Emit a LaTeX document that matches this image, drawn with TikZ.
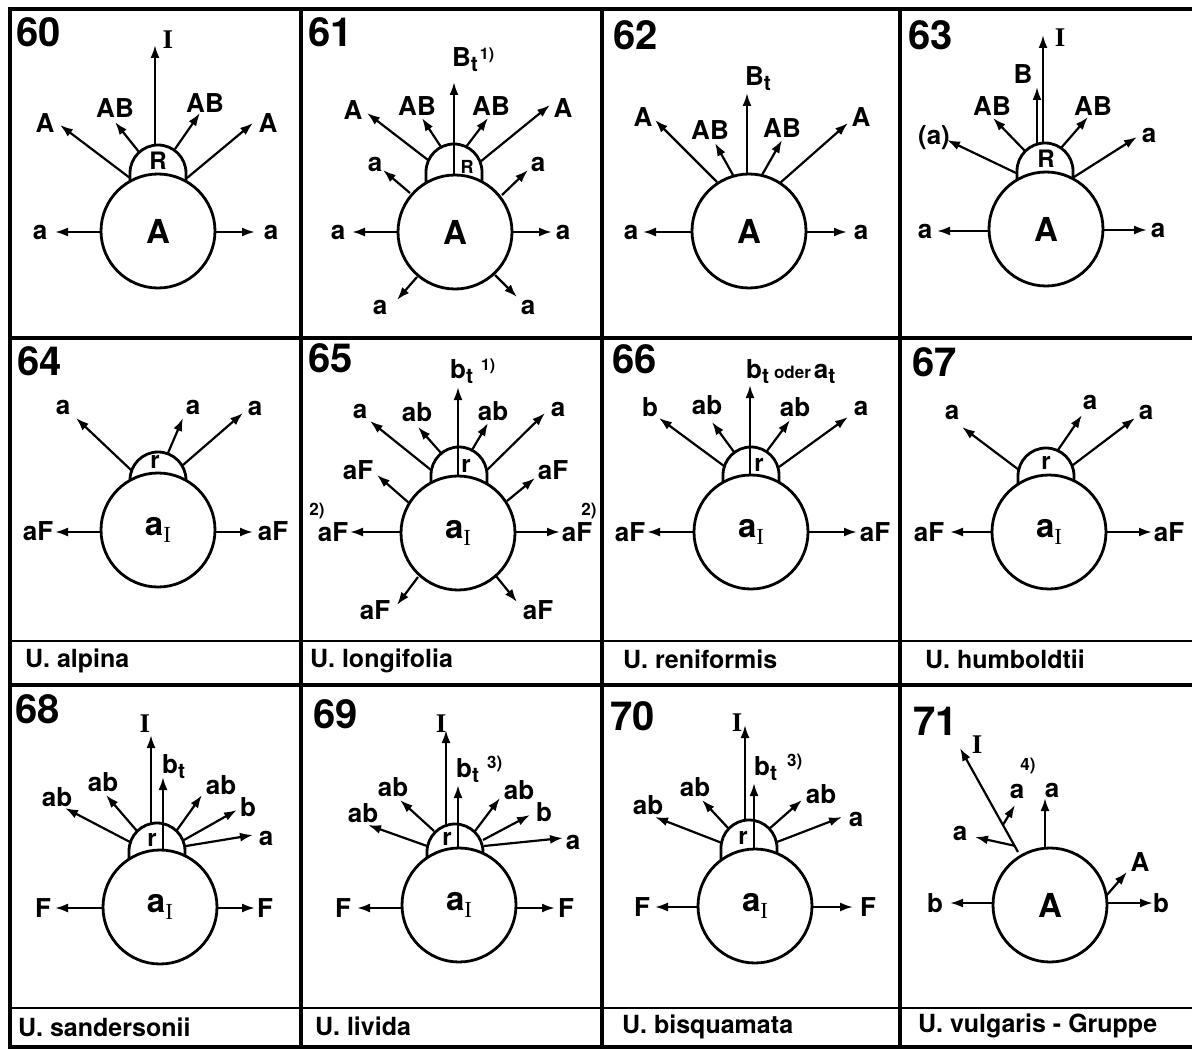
\documentclass[tikz,border=0pt]{standalone}
\usepackage{fontspec}
\setmainfont{TeX Gyre Heros}
\newfontfamily\romf{Liberation Serif}
\usetikzlibrary{arrows.meta,calc}
\newcommand\myfs[1]{\fontsize{#1}{#1}\selectfont}
\newcommand\subt{\raisebox{-5pt}{\myfs{21}t}}
\newcommand\subI{\raisebox{-7pt}{\romf\mdseries\myfs{23}I}}
\newcommand\arw[3]{\coordinate (#1s) at (#2); \coordinate (#1e) at (#3); \draw[arr] (#1s) -- (#1e);}
\newcommand\domeat[2]{\draw[domel] (#1-28,#2+22) -- (#1-28,#2) arc[start angle=180,end angle=0,radius=28pt] -- (#1+28,#2+22);}
\tikzset{
 arr/.style={line width=2.2pt, -{Latex[length=13pt,width=9pt]}},
 lab/.style={font=\bfseries\myfs{26}, inner sep=0pt},
 num/.style={font=\bfseries\myfs{40}, inner sep=0pt, anchor=base west},
 capt/.style={font=\bfseries\myfs{25}, inner sep=0pt, anchor=base west},
 big/.style={circle, draw, line width=2.8pt, fill=white, minimum size=114pt, inner sep=0pt, font=\bfseries\myfs{33}},
 domel/.style={line width=2.8pt},
 rl/.style={font=\bfseries\myfs{24}, inner sep=0pt},
 rom/.style={font=\romf\bfseries\myfs{27}, inner sep=0pt},
 supl/.style={font=\bfseries\myfs{17}, inner sep=0pt},
 frm/.style={line width=3.5pt},
 capl/.style={line width=2pt}
}
\begin{document}
\begin{tikzpicture}[x=1pt,y=-1pt]
\useasboundingbox (0,0) rectangle (1192,1051);
% frame
\draw[frm] (1194,9) -- (10,9) -- (10,1047) -- (1194,1047);
\draw[frm] (301,9) -- (301,1047);
\draw[frm] (602,9) -- (602,1047);
\draw[frm] (900,9) -- (900,1047);
\draw[frm] (10,338) -- (1194,338);
\draw[frm] (10,685) -- (1194,685);
\draw[capl] (10,641) -- (1194,641);
\draw[capl] (10,1008) -- (1194,1008);
% numbers
\node[num] (n60) at (16,47) {60};
\node[num] (n61) at (308,47) {61};
\node[num] (n62) at (613,50) {62};
\node[num] (n63) at (908,50) {63};
\node[num] (n64) at (17,375) {64};
\node[num] (n65) at (308,372) {65};
\node[num] (n66) at (612,373) {66};
\node[num] (n67) at (912,376) {67};
\node[num] (n68) at (15,723) {68};
\node[num] (n69) at (313,728) {69};
\node[num] (n70) at (610,730) {70};
\node[num] (n71) at (913,735) {71};
% captions
\node[capt] (k64) at (25,667) {U. alpina};
\node[capt] (k65) at (310,667) {U. longifolia};
\node[capt] (k66) at (623,668) {U. reniformis};
\node[capt] (k67) at (925,668) {U. humboldtii};
\node[capt] (k68) at (18,1036) {U. sandersonii};
\node[capt] (k69) at (315,1035) {U. livida};
\node[capt] (k70) at (622,1033) {U. bisquamata};
\node[capt] (k71) at (918,1032) {U. vulgaris - Gruppe};

% ---------- 60
\domeat{158}{173}
\node[big] (c60) at (158,231) {A};
\node[rl] (r60) at (158,161) {R};
\arw{i60}{155,145}{155,45} \node[rom] (li60) at (168,40) {I};
\arw{al60}{130,178}{60,125} \node[lab] (lal60) at (45,123) {A};
\arw{bl60}{139,152}{115,122} \node[lab] (lbl60) at (115,108) {AB};
\arw{br60}{175,149}{200,113} \node[lab] (lbr60) at (205,103) {AB};
\arw{ar60}{187,178}{253,123} \node[lab] (lar60) at (268,123) {A};
\arw{hl60}{101,232}{55,232} \node[lab] (lhl60) at (40,232) {a};
\arw{hr60}{215,232}{255,232} \node[lab] (lhr60) at (271,232) {a};

% ---------- 61
\domeat{454}{172}
\node[big] (c61) at (455,232) {A};
\node[rl, font=\bfseries\myfs{18}] (r61) at (467,167) {R};
\arw{t61}{454,175}{454,82}
\node[lab, anchor=base west] (lt61) at (452,67) {B\subt\hspace{2pt}\raisebox{7pt}{\myfs{16}1)}};
\arw{al61}{428,160}{367,113} \node[lab] (lal61) at (353,110) {A};
\arw{bl61}{441,147}{422,118} \node[lab] (lbl61) at (417,106) {AB};
\arw{br61}{466,147}{488,118} \node[lab] (lbr61) at (491,106) {AB};
\arw{ar61}{480,162}{550,105} \node[lab] (lar61) at (563,108) {A};
\arw{ul61}{410,193}{383,170} \node[lab] (lul61) at (375,164) {a};
\arw{ur61}{502,195}{528,170} \node[lab] (lur61) at (538,164) {a};
\arw{hl61}{398,232}{352,232} \node[lab] (lhl61) at (338,232) {a};
\arw{hr61}{512,232}{552,232} \node[lab] (lhr61) at (563,232) {a};
\arw{dl61}{417,277}{397,300} \node[lab] (ldl61) at (380,307) {a};
\arw{dr61}{495,275}{517,297} \node[lab] (ldr61) at (528,307) {a};

% ---------- 62
\node[big] (c62) at (749,231) {A};
\arw{t62}{747,174}{747,93}
\node[lab, anchor=base west] (lt62) at (745,86) {B\subt};
\arw{al62}{717,182}{655,120} \node[lab] (lal62) at (643,117) {A};
\arw{bl62}{733,175}{715,143} \node[lab] (lbl62) at (710,130) {AB};
\arw{br62}{762,175}{782,140} \node[lab] (lbr62) at (782,128) {AB};
\arw{ar62}{780,183}{848,123} \node[lab] (lar62) at (861,117) {A};
\arw{hl62}{692,232}{643,232} \node[lab] (lhl62) at (631,232) {a};
\arw{hr62}{806,232}{847,232} \node[lab] (lhr62) at (861,232) {a};

% ---------- 63
\domeat{1045}{171}
\node[big] (c63) at (1046,229) {A};
\node[rl] (r63) at (1046,159) {R};
\arw{i63}{1043,143}{1043,35} \node[rom] (li63) at (1060,38) {I};
\arw{b63}{1037,144}{1037,87} \node[lab] (lb63) at (1023,74) {B};
\arw{bl63}{1025,151}{993,118} \node[lab] (lbl63) at (992,106) {AB};
\arw{br63}{1061,148}{1088,117} \node[lab] (lbr63) at (1093,106) {AB};
\arw{al63}{1016,173}{947,140} \node[lab] (lal63) at (934,138) {(a)};
\arw{ar63}{1074,177}{1137,137} \node[lab] (lar63) at (1149,135) {a};
\arw{hl63}{989,231}{937,231} \node[lab] (lhl63) at (925,231) {a};
\arw{hr63}{1103,230}{1147,230} \node[lab] (lhr63) at (1158,230) {a};

% ---------- 64
\domeat{158}{480}
\node[big] (c64) at (158,530) {a\subI};
\node[rl] (r64) at (155,462) {r};
\arw{al64}{131,470}{76,418} \node[lab] (lal64) at (63,407) {a};
\arw{am64}{168,453}{183,418} \node[lab] (lam64) at (193,407) {a};
\arw{ar64}{183,465}{243,413} \node[lab] (lar64) at (255,408) {a};
\arw{hl64}{101,532}{55,532} \node[lab] (lhl64) at (38,531) {aF};
\arw{hr64}{215,532}{253,532} \node[lab] (lhr64) at (273,531) {aF};

% ---------- 65
\domeat{459}{475}
\node[big] (c65) at (458,533) {a\subI};
\node[rl] (r65) at (466,466) {r};
\arw{t65}{458,476}{458,387}
\node[lab, anchor=base west] (lt65) at (450,378) {b\subt\hspace{8pt}\raisebox{8pt}{\myfs{16}1)}};
\arw{al65}{431,470}{370,421} \node[lab] (lal65) at (360,411) {a};
\arw{bl65}{441,453}{418,427} \node[lab] (lbl65) at (417,412) {ab};
\arw{br65}{472,450}{488,423} \node[lab] (lbr65) at (493,411) {ab};
\arw{ar65}{487,470}{545,413} \node[lab] (lar65) at (558,409) {a};
\arw{ful65}{409,503}{377,475} \node[lab] (lful65) at (358,470) {aF};
\arw{fur65}{507,501}{535,478} \node[lab] (lfur65) at (553,470) {aF};
\arw{fl65}{401,532}{350,532} \node[lab] (lfl65) at (333,532) {aF};
\node[supl] (sl65) at (317,511) {2)};
\arw{fr65}{515,532}{560,532} \node[lab] (lfr65) at (577,532) {aF};
\node[supl] (sr65) at (589,511) {2)};
\arw{fdl65}{418,577}{397,605} \node[lab] (lfdl65) at (375,610) {aF};
\arw{fdr65}{496,576}{517,602} \node[lab] (lfdr65) at (538,610) {aF};

% ---------- 66
\domeat{751}{475}
\node[big] (c66) at (751,532) {a\subI};
\node[rl] (r66) at (759,465) {r};
\arw{t66}{750,475}{750,385}
\node[lab, anchor=base west] (lt66) at (746,378) {b\subt\hspace{5pt}{\myfs{17}oder}\hspace{3pt}a\subt};
\arw{bl66}{724,466}{659,418} \node[lab] (lbl66) at (650,407) {b};
\arw{abl66}{734,452}{712,422} \node[lab] (labl66) at (707,405) {ab};
\arw{abr66}{767,451}{790,420} \node[lab] (labr66) at (795,407) {ab};
\arw{ar66}{779,467}{848,417} \node[lab] (lar66) at (861,408) {a};
\arw{fl66}{694,532}{647,532} \node[lab] (lfl66) at (630,532) {aF};
\arw{fr66}{808,532}{857,532} \node[lab] (lfr66) at (875,532) {aF};

% ---------- 67
\domeat{1046}{476}
\node[big] (c67) at (1049,532) {a\subI};
\node[rl] (r67) at (1046,463) {r};
\arw{al67}{1019,470}{962,427} \node[lab] (lal67) at (952,412) {a};
\arw{am67}{1058,450}{1082,415} \node[lab] (lam67) at (1090,402) {a};
\arw{ar67}{1073,465}{1135,418} \node[lab] (lar67) at (1146,412) {a};
\arw{fl67}{992,532}{950,532} \node[lab] (lfl67) at (929,532) {aF};
\arw{fr67}{1106,532}{1152,532} \node[lab] (lfr67) at (1169,532) {aF};

% ---------- 68
\domeat{157}{851}
\node[big] (c68) at (160,907) {a\subI};
\node[rl] (r68) at (152,840) {r};
\arw{i68}{151,824}{151,735} \node[rom] (li68) at (145,724) {I};
\arw{t68}{163,850}{163,777}
\node[lab, anchor=base west] (lt68) at (162,773) {b\subt};
\arw{bfl68}{130,842}{65,808} \node[lab] (lbfl68) at (57,797) {ab};
\arw{bl68}{137,831}{106,795} \node[lab] (lbl68) at (103,782) {ab};
\arw{br68}{177,830}{202,795} \node[lab] (lbr68) at (221,785) {ab};
\arw{b68}{184,840}{237,810} \node[lab] (lb68) at (248,807) {b};
\arw{a68}{186,846}{253,835} \node[lab] (la68) at (266,838) {a};
\arw{fl68}{103,908}{55,908} \node[lab] (lfl68) at (43,908) {F};
\arw{fr68}{217,908}{255,908} \node[lab] (lfr68) at (265,908) {F};

% ---------- 69
\domeat{455}{852}
\node[big] (c69) at (459,905) {a\subI};
\node[rl] (r69) at (447,839) {r};
\arw{i69}{446,825}{446,730} \node[rom] (li69) at (441,724) {I};
\arw{t69}{458,848}{458,785}
\node[lab, anchor=base west] (lt69) at (456,777) {b\subt\hspace{8pt}\raisebox{9pt}{\myfs{17}3)}};
\arw{bfl69}{427,846}{368,825} \node[lab] (lbfl69) at (363,813) {ab};
\arw{bl69}{434,831}{400,800} \node[lab] (lbl69) at (393,787) {ab};
\arw{br69}{475,831}{500,798} \node[lab] (lbr69) at (519,790) {ab};
\arw{b69}{483,840}{530,815} \node[lab] (lb69) at (544,812) {b};
\arw{a69}{484,846}{563,838} \node[lab] (la69) at (573,842) {a};
\arw{fl69}{402,908}{357,908} \node[lab] (lfl69) at (343,908) {F};
\arw{fr69}{516,908}{555,908} \node[lab] (lfr69) at (566,908) {F};

% ---------- 70
\domeat{749}{848}
\node[big] (c70) at (755,906) {a\subI};
\node[rl] (r70) at (743,838) {r};
\arw{i70}{745,821}{745,725} \node[rom] (li70) at (737,723) {I};
\arw{t70}{754,848}{754,783}
\node[lab, anchor=base west] (lt70) at (754,775) {b\subt\hspace{10pt}\raisebox{9pt}{\myfs{17}3)}};
\arw{bfl70}{722,843}{655,817} \node[lab] (lbfl70) at (648,805) {ab};
\arw{bl70}{729,829}{702,800} \node[lab] (lbl70) at (695,787) {ab};
\arw{br70}{769,829}{802,800} \node[lab] (lbr70) at (821,794) {ab};
\arw{a70}{777,842}{842,817} \node[lab] (la70) at (856,819) {a};
\arw{fl70}{698,907}{655,907} \node[lab] (lfl70) at (642,907) {F};
\arw{fr70}{812,907}{853,907} \node[lab] (lfr70) at (868,907) {F};

% ---------- 71
\node[big] (c71) at (1050,905) {A};
\arw{i71}{1018,852}{960,748} \node[rom] (li71) at (977,745) {I};
\coordinate (br71a) at ($(i71s)!0.26!(i71e)$);
\coordinate (br71b) at ($(i71s)!0.06!(i71e)$);
\coordinate (br71ae) at (1015,805);
\coordinate (br71be) at (975,837);
\draw[arr] (br71a) -- (br71ae); \node[lab] (lbra71) at (1017,791) {a};
\node[supl] (s71) at (1028,766) {4)};
\draw[arr] (br71b) -- (br71be); \node[lab] (lbrb71) at (960,833) {a};
\arw{u71}{1045,848}{1045,798} \node[lab] (lu71) at (1052,790) {a};
\arw{ar71}{1106,896}{1127,872} \node[lab] (lar71) at (1140,862) {A};
\arw{bl71}{993,903}{950,903} \node[lab] (lbl71) at (935,903) {b};
\arw{brr71}{1107,903}{1153,903} \node[lab] (lbrr71) at (1161,903) {b};
\end{tikzpicture}
\end{document}
